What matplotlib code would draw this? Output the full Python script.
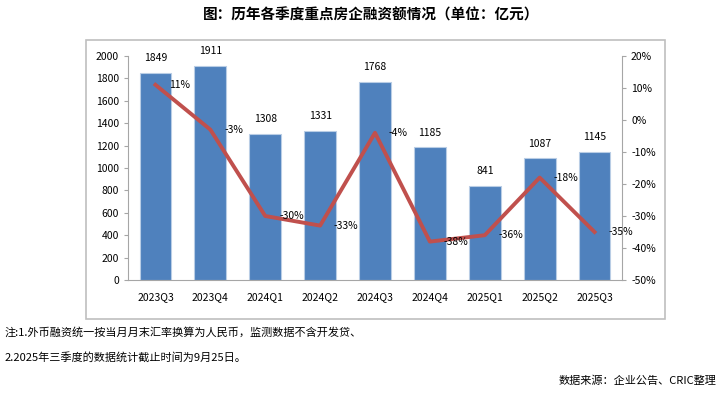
import matplotlib
matplotlib.use('Agg')
import matplotlib.pyplot as plt
import matplotlib.ticker as ticker
from matplotlib.patches import Rectangle

plt.rcParams['font.family'] = ['Noto Sans CJK SC', 'DejaVu Sans']

quarters = ['2023Q3', '2023Q4', '2024Q1', '2024Q2', '2024Q3',
            '2024Q4', '2025Q1', '2025Q2', '2025Q3']
amounts = [1849, 1911, 1308, 1331, 1768, 1185, 841, 1087, 1145]
growth = [11, -3, -30, -33, -4, -38, -36, -18, -35]

title = '图：历年各季度重点房企融资额情况（单位：亿元）'
note1 = '注:1.外币融资统一按当月月末汇率换算为人民币，监测数据不含开发贷、'
note2 = '2.2025年三季度的数据统计截止时间为9月25日。'
source = '数据来源：企业公告、CRIC整理'

bar_color = '#4F81BD'
line_color = '#C0504D'
axis_color = '#A6A6A6'

W, H = 719, 394
fig = plt.figure(figsize=(W / 100, H / 100), dpi=100)

# chart frame
fig.patches.append(Rectangle((86 / W, 1 - 319 / H), (665 - 86) / W, (319 - 40) / H,
                             transform=fig.transFigure, fill=False,
                             edgecolor='#BFBFBF', linewidth=1.2))

ax = fig.add_axes([128 / W, 1 - 280 / H, (622 - 128) / W, (280 - 56) / H])
x = list(range(len(quarters)))
ax.bar(x, amounts, width=0.58, color=bar_color, edgecolor='#B9CDE5', linewidth=0.8, zorder=2)
ax.set_xlim(-0.5, len(quarters) - 0.5)
ax.set_ylim(0, 2000)
ax.yaxis.set_major_locator(ticker.MultipleLocator(200))
ax.set_xticks(x)
ax.set_xticklabels(quarters, fontsize=7.5)
ax.tick_params(axis='x', length=0, pad=9)
ax.tick_params(axis='y', labelsize=7.5, length=3, color=axis_color)
for s in ['top', 'right']:
    ax.spines[s].set_visible(False)
for s in ['left', 'bottom']:
    ax.spines[s].set_color(axis_color)

for xi, v in zip(x, amounts):
    ax.annotate(str(v), (xi, v), xytext=(0, 7), textcoords='offset points',
                ha='center', va='bottom', fontsize=7.5)

ax2 = ax.twinx()
ax2.plot(x, growth, color=line_color, linewidth=2.8, zorder=3)
ax2.set_ylim(-50, 20)
ax2.yaxis.set_major_locator(ticker.MultipleLocator(10))
ax2.yaxis.set_major_formatter(ticker.FuncFormatter(lambda v, p: '%d%%' % v))
ax2.tick_params(axis='y', labelsize=7.5, length=3, color=axis_color)
for s in ['top', 'left', 'bottom']:
    ax2.spines[s].set_visible(False)
ax2.spines['right'].set_color(axis_color)

for xi, g in zip(x, growth):
    ax2.annotate('%d%%' % g, (xi, g), xytext=(10, 0), textcoords='offset points',
                 ha='left', va='center', fontsize=7.5)

fig.text(371 / W, 1 - 15 / H, title, ha='center', va='center', fontsize=10.5, fontweight='bold')
fig.text(5 / W, 1 - 332 / H, note1, ha='left', va='center', fontsize=8)
fig.text(5 / W, 1 - 357 / H, note2, ha='left', va='center', fontsize=8)
fig.text(716 / W, 1 - 381 / H, source, ha='right', va='center', fontsize=8)

fig.savefig('out.png', dpi=100)
